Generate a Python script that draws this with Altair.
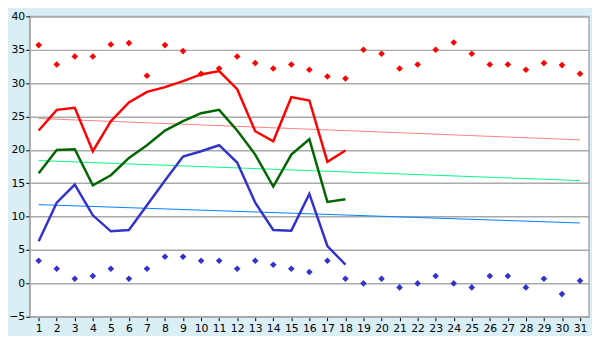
import altair as alt
import pandas as pd

days = list(range(1, 32))
line_days = list(range(1, 19))

max_temp = [22.9, 26.0, 26.3, 19.8, 24.3, 27.1, 28.7, 29.4, 30.3, 31.3, 31.8, 29.1,
            22.8, 21.3, 27.9, 27.4, 18.2, 19.9]
mean_temp = [16.5, 20.0, 20.1, 14.7, 16.2, 18.8, 20.7, 22.9, 24.3, 25.5, 26.0, 22.9,
             19.3, 14.5, 19.3, 21.6, 12.2, 12.6]
min_temp = [6.3, 12.1, 14.8, 10.2, 7.8, 8.0, 11.7, 15.4, 19.0, 19.8, 20.7, 18.1,
            12.1, 8.0, 7.9, 13.4, 5.6, 2.8]

record_max = [35.7, 32.8, 34.0, 34.0, 35.8, 36.0, 31.1, 35.7, 34.8, 31.4, 32.2, 34.0,
              33.0, 32.2, 32.8, 32.0, 31.0, 30.7, 35.0, 34.4, 32.2, 32.8, 35.0, 36.1,
              34.4, 32.8, 32.8, 32.0, 33.0, 32.7, 31.4]
record_min = [3.4, 2.2, 0.7, 1.1, 2.2, 0.7, 2.2, 4.0, 4.0, 3.4, 3.4, 2.2,
              3.4, 2.8, 2.2, 1.7, 3.4, 0.7, 0.0, 0.7, -0.6, 0.0, 1.1, 0.0,
              -0.6, 1.1, 1.1, -0.6, 0.7, -1.6, 0.4]

trend_days = [1, 31]
trend_max = [24.7, 21.5]
trend_mean = [18.4, 15.4]
trend_min = [11.8, 9.05]

rows = []
def add(series, xs, ys):
    for x, y in zip(xs, ys):
        rows.append({"series": series, "day": x, "value": y})

add("max", line_days, max_temp)
add("mean", line_days, mean_temp)
add("min", line_days, min_temp)
add("rmax", days, record_max)
add("rmin", days, record_min)
add("tmax", trend_days, trend_max)
add("tmean", trend_days, trend_mean)
add("tmin", trend_days, trend_min)
df = pd.DataFrame(rows)

base = alt.Chart(df).encode(
    x=alt.X("day:Q", scale=alt.Scale(domain=[0.5, 31.5], nice=False, zero=False),
            axis=alt.Axis(values=days, grid=False, title=None, tickColor="black",
                          tickSize=4, domainColor="#AAAAAA", labelPadding=2,
                          labelFlush=False)),
    y=alt.Y("value:Q", scale=alt.Scale(domain=[-5, 40], nice=False, zero=False),
            axis=alt.Axis(values=list(range(-5, 41, 5)), grid=True, gridColor="#AAAAAA",
                          title=None, tickColor="black", tickSize=4,
                          domainColor="#AAAAAA", labelPadding=1, labelFlush=False)),
    order="day:Q",
)

def sel(name):
    return base.transform_filter(alt.datum.series == name)

layers = [
    sel("tmax").mark_line(color="#FF8080", strokeWidth=1),
    sel("tmean").mark_line(color="#00FF80", strokeWidth=1),
    sel("tmin").mark_line(color="#0080FF", strokeWidth=1),
    sel("max").mark_line(color="#FF0000", strokeWidth=2.5),
    sel("mean").mark_line(color="#006600", strokeWidth=2.5),
    sel("min").mark_line(color="#3333CC", strokeWidth=2.5),
    sel("rmax").mark_point(shape="diamond", filled=True, size=45, opacity=1, color="#FF0000"),
    sel("rmin").mark_point(shape="diamond", filled=True, size=45, opacity=1, color="#3333CC"),
]

chart = alt.layer(*layers).properties(
    width=568, height=305,
    padding={"left": 0, "top": 0, "right": 3, "bottom": 0},
    background="#D9EEF5",
).configure_view(
    fill="white", stroke="#AAAAAA", strokeWidth=1.5
).configure_axis(
    labelFont="DejaVu Sans", labelFontSize=11, labelColor="black",
    gridWidth=1.5, domainWidth=1.5,
)

chart.save("out.html", embed_options={"renderer": "svg", "actions": False})
